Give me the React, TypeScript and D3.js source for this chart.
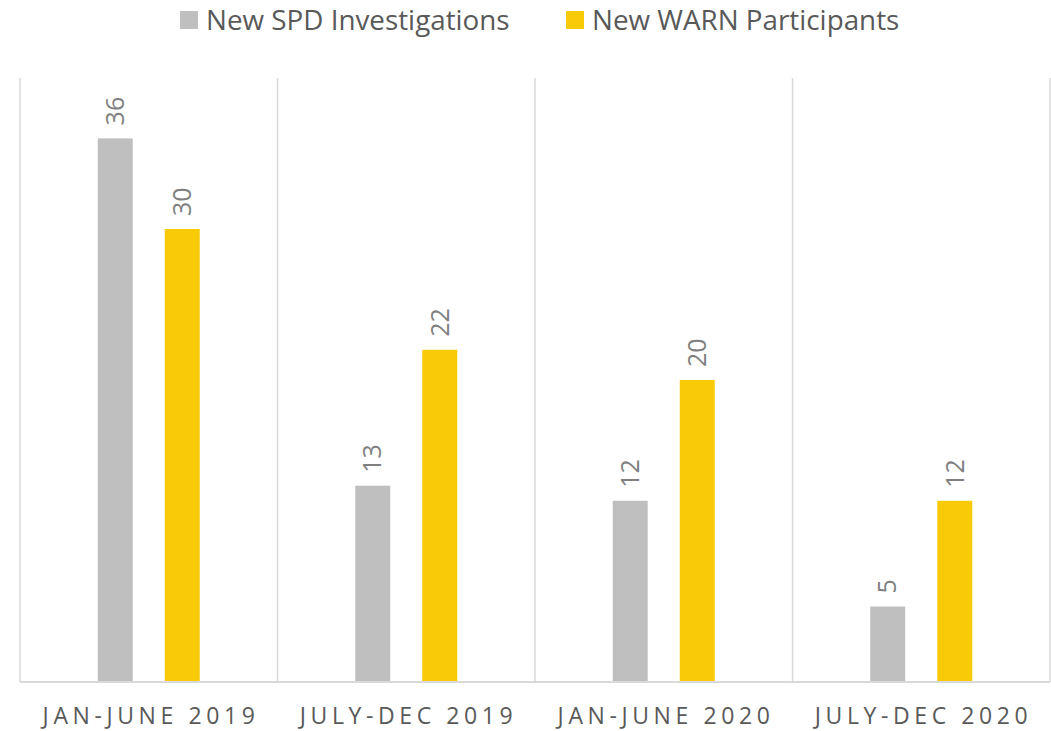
import { useEffect, useRef } from 'react';
import * as d3 from 'd3';

const categories = ['JAN-JUNE 2019', 'JULY-DEC 2019', 'JAN-JUNE 2020', 'JULY-DEC 2020'];
const seriesNames = ['New SPD Investigations', 'New WARN Participants'];
const spdValues = [36, 13, 12, 5];
const warnValues = [30, 22, 20, 12];
const colors = ['#BFBFBF', '#F9CA08'];

const W = 1051;
const H = 731;
const FONT = "'Open Sans', sans-serif";

export default function App() {
  const ref = useRef<SVGSVGElement>(null);

  useEffect(() => {
    if (!ref.current) return;
    const svg = d3.select(ref.current);
    svg.selectAll('*').remove();

    const margin = { top: 78, right: 1, bottom: 49, left: 20 };
    const w = W - margin.left - margin.right;
    const h = H - margin.top - margin.bottom;

    const x0 = d3.scaleBand().domain(categories).range([0, w]);
    const x1 = d3.scaleBand().domain(seriesNames).range([0, 102]).paddingInner(0.478);
    const y = d3.scaleLinear().domain([0, 40]).range([h, 0]);

    const g = svg.append('g').attr('transform', `translate(${margin.left},${margin.top})`);

    // vertical separators between categories
    const seps = categories.map((c) => x0(c)!).concat([w]);
    g.selectAll('line.sep')
      .data(seps)
      .join('line')
      .attr('x1', (d) => d)
      .attr('x2', (d) => d)
      .attr('y1', 0)
      .attr('y2', h)
      .attr('stroke', '#D9D9D9')
      .attr('stroke-width', 1.5);

    const values = [spdValues, warnValues];
    const groupOffset = (x0.bandwidth() - 102) / 2;

    seriesNames.forEach((s, si) => {
      const vals = values[si];
      g.selectAll(`rect.s${si}`)
        .data(vals)
        .join('rect')
        .attr('x', (_, i) => x0(categories[i])! + groupOffset + x1(s)!)
        .attr('y', (d) => y(d))
        .attr('width', x1.bandwidth())
        .attr('height', (d) => h - y(d))
        .attr('fill', colors[si]);

      g.selectAll(`text.l${si}`)
        .data(vals)
        .join('text')
        .attr('transform', (d, i) => {
          const cx = x0(categories[i])! + groupOffset + x1(s)! + x1.bandwidth() / 2;
          return `translate(${cx},${y(d) - 13}) rotate(-90)`;
        })
        .attr('dy', '0.35em')
        .attr('font-family', FONT)
        .attr('font-size', 25)
        .attr('fill', '#7F7F7F')
        .text((d) => d);
    });

    // baseline
    g.append('line')
      .attr('x1', 0)
      .attr('x2', w)
      .attr('y1', h)
      .attr('y2', h)
      .attr('stroke', '#D9D9D9')
      .attr('stroke-width', 2);

    const ls = 4.6;
    g.selectAll('text.cat')
      .data(categories)
      .join('text')
      .attr('x', (d) => x0(d)! + x0.bandwidth() / 2 + ls / 2)
      .attr('y', h + 42)
      .attr('text-anchor', 'middle')
      .attr('font-family', FONT)
      .attr('font-size', 23)
      .attr('letter-spacing', ls)
      .attr('fill', '#595959')
      .text((d) => d);

    // legend
    const legendX = [180, 566];
    const lg = svg.append('g');
    seriesNames.forEach((s, i) => {
      lg.append('rect')
        .attr('x', legendX[i])
        .attr('y', 11)
        .attr('width', 18)
        .attr('height', 18)
        .attr('fill', colors[i]);
      lg.append('text')
        .attr('x', legendX[i] + 26)
        .attr('y', 20)
        .attr('dy', '0.35em')
        .attr('font-family', FONT)
        .attr('font-size', 27.8)
        .attr('fill', '#595959')
        .text(s);
    });
  }, []);

  return (
    <svg
      ref={ref}
      width={W}
      height={H}
      style={{ position: 'absolute', left: 0, top: 0, background: '#fff' }}
    />
  );
}
